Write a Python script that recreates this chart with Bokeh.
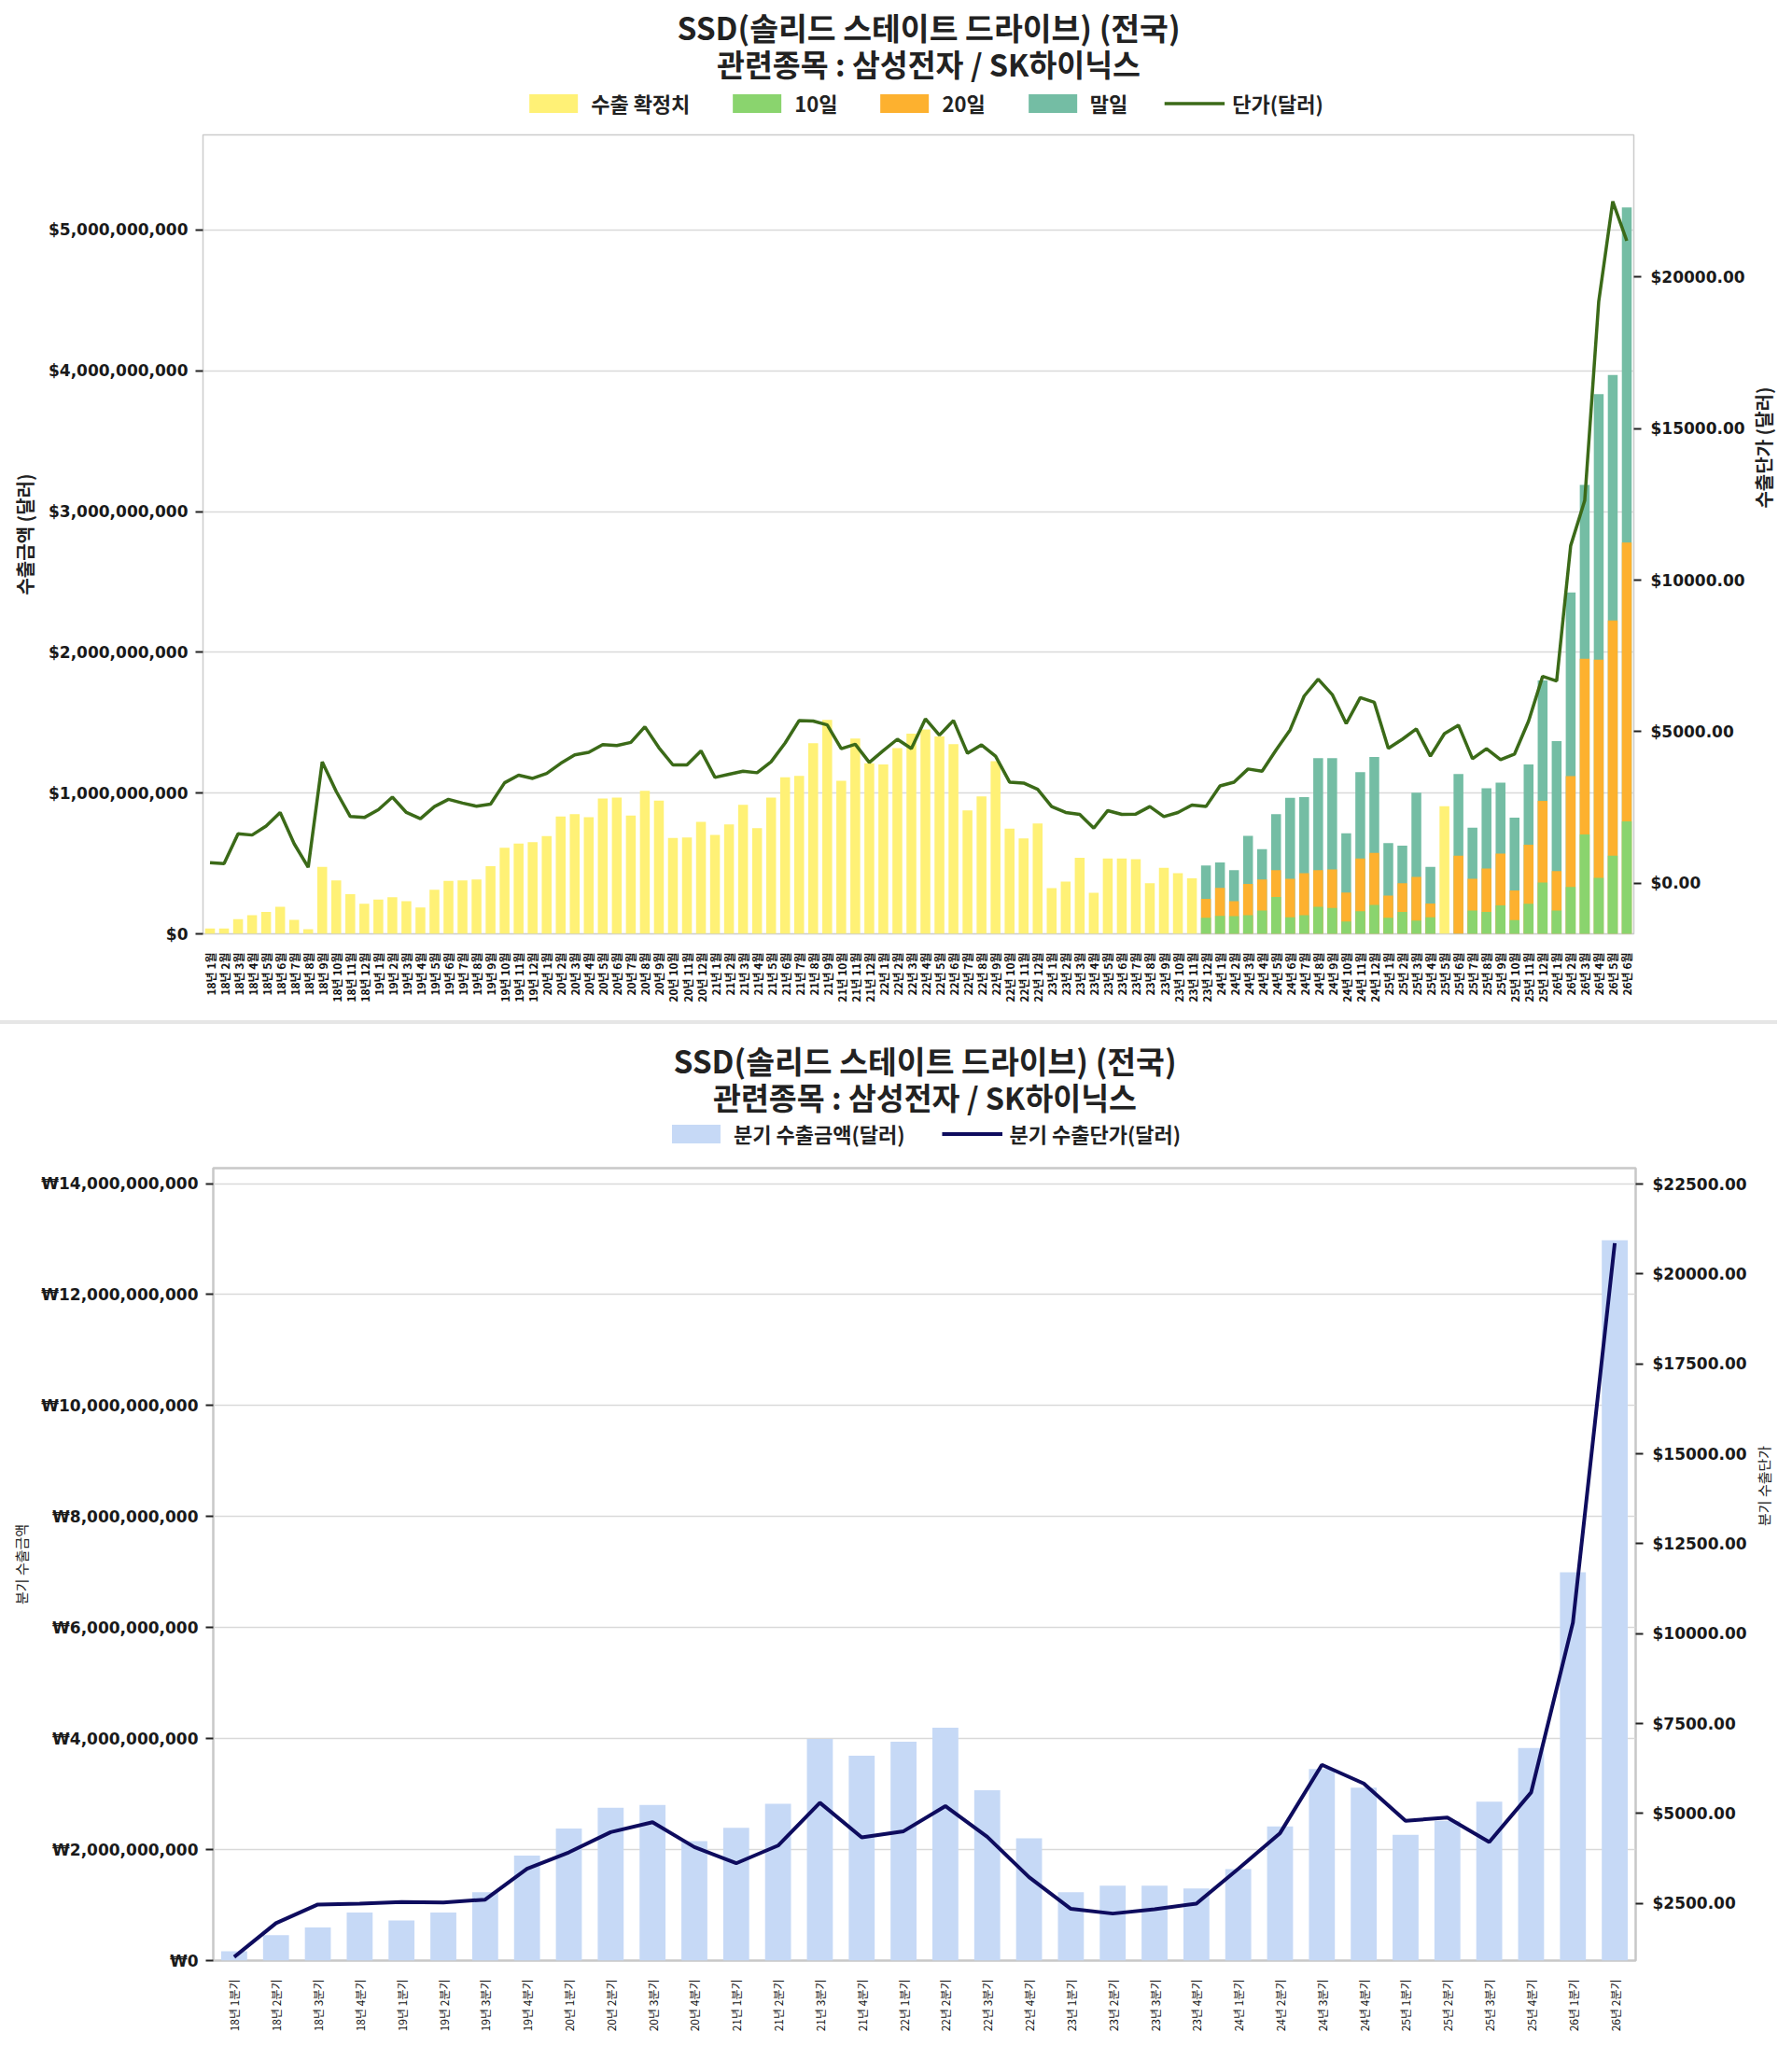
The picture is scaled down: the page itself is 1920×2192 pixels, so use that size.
import math
import numpy as np
from bokeh.plotting import figure
from bokeh.models import (Range1d, LinearAxis, FactorRange, Legend, LegendItem, Label,
                          NumeralTickFormatter, CustomJSTickFormatter,
                          SingleIntervalTicker, Div)
from bokeh.layouts import column, row
from bokeh.embed import file_html
from bokeh.resources import INLINE

# ---------------- data (monthly) ----------------
months = [f"{y}년 {m}월" for y in range(18, 27) for m in range(1, 13)][:102]

# 수출 확정치 (million USD): 18년 1월 ~ 23년 11월, plus 25년 5월
confirmed_months = months[:71] + ["25년 5월"]
confirmed_musd = [
    38, 38, 104, 133, 155, 192, 99, 33, 475, 380, 281, 214,
    243, 261, 232, 188, 314, 376, 380, 387, 480, 612, 641, 652,
    694, 833, 851, 829, 961, 968, 840, 1017, 946, 681, 685, 796,
    703, 778, 917, 751, 968, 1112, 1123, 1355, 1520, 1087, 1388, 1211,
    1204, 1319, 1423, 1452, 1403, 1348, 877, 977, 1227, 747, 678, 784,
    325, 371, 541, 292, 535, 535, 530, 360, 469, 431, 394,
    906,
]

# 잠정치 (cumulative, million USD): 23년 12월 ~ 26년 6월 (25년 5월 제외)
prelim_months = [m for m in months[71:] if m != "25년 5월"]
ten_day_musd = [115, 128, 126, 133, 166, 262, 117, 133, 192, 184, 88, 161, 205,
                115, 155, 95, 117, 0, 166, 155, 203, 97, 214, 365,
                166, 334, 707, 398, 556, 799]
twenty_day_musd = [248, 327, 232, 354, 387, 453, 392, 431, 453, 458, 294, 535, 575,
                   272, 360, 404, 216, 556, 392, 464, 570, 309, 634, 945,
                   446, 1121, 1955, 1948, 2227, 2780]
month_end_musd = [486, 508, 453, 696, 601, 851, 966, 972, 1249, 1249, 714, 1149, 1256,
                  645, 627, 1003, 475, 1136, 754, 1034, 1074, 826, 1204, 1801,
                  1370, 2425, 3190, 3835, 3970, 5160]

# 단가 (USD)
unit_price_usd = [
    682, 651, 1632, 1591, 1890, 2335, 1302, 527, 4008, 3027, 2200, 2169,
    2428, 2841, 2335, 2128, 2531, 2768, 2645, 2541, 2613, 3316, 3564, 3461,
    3626, 3956, 4235, 4318, 4576, 4545, 4648, 5165, 4473, 3905, 3905, 4370,
    3492, 3595, 3698, 3647, 4008, 4628, 5372, 5351, 5227, 4442, 4587, 3988,
    4380, 4752, 4442, 5423, 4886, 5372, 4287, 4566, 4194, 3337, 3306, 3099,
    2531, 2335, 2273, 1818, 2397, 2273, 2283, 2531, 2200, 2335, 2583, 2531,
    3213, 3337, 3770, 3698, 4400, 5062, 6177, 6735, 6229, 5268, 6126, 5971,
    4452, 4752, 5093, 4194, 4938, 5217, 4111, 4442, 4080, 4266, 5351, 6828,
    6673, 11140, 12630, 19200, 22500, 21200,
]

# ---------------- data (quarterly) ----------------
quarters = [f"{y}년 {q}분기" for y in range(18, 27) for q in range(1, 5)][:34]
quarter_musd = [168, 459, 599, 867, 722, 867, 1231, 1891, 2378, 2752, 2803, 2154,
                2394, 2825, 3994, 3692, 3944, 4196, 3071, 2204, 1231, 1348, 1348, 1298,
                1650, 2417, 3452, 3116, 2266, 2517, 2864, 3832, 6995, 12980]
quarter_price_usd = [1008, 1948, 2466, 2492, 2535, 2526, 2604, 3459, 3917, 4479, 4754, 4065,
                     3614, 4106, 5298, 4332, 4505, 5204, 4350, 3226, 2345, 2215, 2337, 2492,
                     3459, 4453, 6351, 5833, 4797, 4883, 4202, 5582, 10307, 20860]

# ---------------- style ----------------
CJK = "Noto Sans CJK KR"
NUM = "DejaVu Sans"
TITLE1 = "SSD(솔리드 스테이트 드라이브) (전국)"
TITLE2 = "관련종목 : 삼성전자 / SK하이닉스"
C_YEL, C_10, C_20, C_END, C_LINE = "#FFF176", "#8AD46E", "#FDB12F", "#74BDA4", "#3B6A18"
C_QBAR, C_QLINE = "#C6D9F6", "#0E0C5E"
W = 1904
WLAB = 30          # strip on the right holding the rotated right-axis title
FR1 = (217, 1750)  # frame left / right (px) of top chart
FR2 = (228, 1753)  # frame left / right of bottom chart


def bare(width, height, x_range, y_range, left=0, right=0):
    f = figure(width=width, height=height, x_range=x_range, y_range=y_range,
               output_backend="svg", toolbar_location=None,
               x_axis_location=None, y_axis_location=None,
               min_border_left=left, min_border_right=right,
               min_border_top=0, min_border_bottom=0)
    try:
        f.title_location = None
    except Exception:
        f.title.visible = False
    f.xgrid.visible = False
    f.ygrid.visible = False
    f.outline_line_color = None
    f.background_fill_alpha = 0
    return f


def add_titles(h, height, frame_w, y1, y2):
    for txt, yc, fs in ((TITLE1, y1, "33.5px"), (TITLE2, y2, "32.5px")):
        h.add_layout(Label(x=frame_w / 2, y=height - yc, x_units="screen", y_units="screen",
                           text=txt, text_align="center", text_baseline="middle",
                           text_font=CJK, text_font_size=fs, text_font_style="bold",
                           text_color="#222222"))


def add_legend(h, items, margin):
    leg = Legend(items=items, orientation="horizontal", location="bottom_center",
                 glyph_width=65, glyph_height=25, label_standoff=8, spacing=39,
                 label_text_font=CJK, label_text_font_size="22px",
                 label_text_font_style="bold", label_text_color="#222222",
                 border_line_color=None, background_fill_alpha=0,
                 inactive_fill_alpha=0, padding=4, margin=margin)
    h.add_layout(leg, "center")


def right_title(text, height, yc, size, style):
    f = bare(WLAB, height, Range1d(0, 1), Range1d(0, 1))
    f.add_layout(Label(x=15, y=height - yc, x_units="screen", y_units="screen",
                       text=text, angle=math.pi / 2, text_align="center",
                       text_baseline="middle", text_font=CJK, text_font_size=size,
                       text_font_style=style, text_color="#222222"))
    return f


def style_y(ax, label, lab_size, lab_style):
    ax.axis_label = label
    ax.axis_label_text_font = CJK
    ax.axis_label_text_font_size = lab_size
    ax.axis_label_text_font_style = lab_style
    ax.axis_label_text_color = "#222222"
    ax.axis_label_standoff = 8
    ax.major_label_text_font = NUM
    ax.major_label_text_font_size = "17px"
    ax.major_label_text_font_style = "bold"
    ax.major_label_text_color = "#1a1a1a"
    ax.major_tick_out = 8
    ax.major_tick_in = 0
    ax.major_tick_line_width = 2
    ax.major_tick_line_color = "#222222"
    ax.minor_tick_line_color = None
    ax.axis_line_color = None
    ax.major_label_standoff = 8


def style_x(ax, fstyle):
    ax.major_label_orientation = math.pi / 2
    ax.major_label_text_font = CJK
    ax.major_label_text_font_size = "12px"
    ax.major_label_text_font_style = fstyle
    ax.major_label_text_color = "#111111"
    ax.major_tick_line_color = None
    ax.minor_tick_line_color = None
    ax.axis_line_color = None
    ax.major_label_standoff = 14


def main_fig(height, x_range, y_end, frame, bottom):
    p = figure(width=W - WLAB, height=height, x_range=x_range,
               y_range=Range1d(0, y_end), output_backend="svg", toolbar_location=None,
               min_border_left=frame[0], min_border_right=W - WLAB - frame[1],
               min_border_top=2, min_border_bottom=bottom)
    try:
        p.title_location = None
    except Exception:
        p.title.visible = False
    p.xgrid.visible = False
    p.ygrid.grid_line_color = "#d9d9d9"
    p.ygrid.grid_line_width = 1.5
    return p


# ================= top chart =================
x1 = FactorRange(*months)
HH1, HP1, BB1 = 142, 951, 93
y1_max = max(month_end_musd) * 1e6 * 1.1
pmin, pmax = min(unit_price_usd), max(unit_price_usd)
pspan = pmax - pmin

p1 = main_fig(HP1, x1, y1_max, FR1, BB1)
p1.extra_y_ranges = {"price": Range1d(pmin - 0.1 * pspan, pmax + 0.1 * pspan)}


def draw_top(fig, visible=True):
    rc = fig.vbar(x=confirmed_months, top=[v * 1e6 for v in confirmed_musd], width=0.7,
                  fill_color=C_YEL, line_color=None, visible=visible)
    re = fig.vbar(x=prelim_months, top=[v * 1e6 for v in month_end_musd], width=0.7,
                  fill_color=C_END, line_color=None, visible=visible)
    r2 = fig.vbar(x=prelim_months, top=[v * 1e6 for v in twenty_day_musd], width=0.7,
                  fill_color=C_20, line_color=None, visible=visible)
    r1 = fig.vbar(x=prelim_months, top=[v * 1e6 for v in ten_day_musd], width=0.7,
                  fill_color=C_10, line_color=None, visible=visible)
    rl = fig.line(x=months, y=unit_price_usd, y_range_name="price",
                  line_color=C_LINE, line_width=3.5, visible=visible)
    return rc, r1, r2, re, rl


draw_top(p1)

ax_l1 = p1.yaxis[0]
ax_l1.ticker = SingleIntervalTicker(interval=1e9, num_minor_ticks=0)
ax_l1.formatter = NumeralTickFormatter(format="$0,0")
style_y(ax_l1, "수출금액 (달러)", "20px", "bold")

ax_r1 = LinearAxis(y_range_name="price",
                   ticker=SingleIntervalTicker(interval=5000, num_minor_ticks=0),
                   formatter=NumeralTickFormatter(format="$0.00"))
style_y(ax_r1, None, "20px", "bold")
ax_r1.major_label_standoff = 10
p1.add_layout(ax_r1, "right")
style_x(p1.xaxis[0], "bold")
p1.outline_line_color = "#cccccc"
p1.outline_line_width = 1.5

# header: titles + legend (legend swatches taken from hidden copies of the series)
h1 = bare(W, HH1, x1, Range1d(0, y1_max), FR1[0], W - FR1[1])
h1.extra_y_ranges = {"price": Range1d(pmin, pmax)}
hc, h10, h20, hend, hline = draw_top(h1, visible=False)
add_titles(h1, HH1, FR1[1] - FR1[0], 28, 67)
add_legend(h1, [
    LegendItem(label="수출 확정치", renderers=[hc]),
    LegendItem(label="10일", renderers=[h10]),
    LegendItem(label="20일", renderers=[h20]),
    LegendItem(label="말일", renderers=[hend]),
    LegendItem(label="단가(달러)", renderers=[hline]),
], 16)

rt1 = right_title("수출단가 (달러)", HP1, 2 + (HP1 - 2 - BB1) / 2, "20px", "bold")

# ================= separator =================
sep = Div(text="", width=W, height=4, margin=0, styles={"background-color": "#e6e6e6"})

# ================= bottom chart =================
x2 = FactorRange(*quarters)
HH2, HP2, BB2 = 152, 935, 84
y2_max = max(quarter_musd) * 1e6 * 1.1
qmin, qmax = min(quarter_price_usd), max(quarter_price_usd)

p2 = main_fig(HP2, x2, y2_max, FR2, BB2)
p2.extra_y_ranges = {"qprice": Range1d(qmin * 0.9, qmax * 1.1)}


def draw_bottom(fig, visible=True):
    rb = fig.vbar(x=quarters, top=[v * 1e6 for v in quarter_musd], width=0.62,
                  fill_color=C_QBAR, line_color=None, visible=visible)
    rl = fig.line(x=quarters, y=quarter_price_usd, y_range_name="qprice",
                  line_color=C_QLINE, line_width=4, visible=visible)
    return rb, rl


draw_bottom(p2)

ax_l2 = p2.yaxis[0]
ax_l2.ticker = SingleIntervalTicker(interval=2e9, num_minor_ticks=0)
ax_l2.formatter = CustomJSTickFormatter(
    code="return '\u20a9' + Math.round(tick).toLocaleString('en-US');")
style_y(ax_l2, "분기 수출금액", "15px", "normal")

ax_r2 = LinearAxis(y_range_name="qprice",
                   ticker=SingleIntervalTicker(interval=2500, num_minor_ticks=0),
                   formatter=NumeralTickFormatter(format="$0.00"))
style_y(ax_r2, None, "15px", "normal")
ax_r2.major_label_standoff = 10
p2.add_layout(ax_r2, "right")
style_x(p2.xaxis[0], "normal")
p2.outline_line_color = "#c8c8c8"
p2.outline_line_width = 2.5

h2 = bare(W, HH2, x2, Range1d(0, y2_max), FR2[0], W - FR2[1])
h2.extra_y_ranges = {"qprice": Range1d(qmin, qmax)}
hb, hl = draw_bottom(h2, visible=False)
add_titles(h2, HH2, FR2[1] - FR2[0], 38, 77)
add_legend(h2, [
    LegendItem(label="분기 수출금액(달러)", renderers=[hb]),
    LegendItem(label="분기 수출단가(달러)", renderers=[hl]),
], 19)

rt2 = right_title("분기 수출단가", HP2, 2 + (HP2 - 2 - BB2) / 2, "15px", "normal")

layout = column(h1, row(p1, rt1, spacing=0), sep, h2, row(p2, rt2, spacing=0), spacing=0)
open("out.html", "w").write(file_html(layout, INLINE))
